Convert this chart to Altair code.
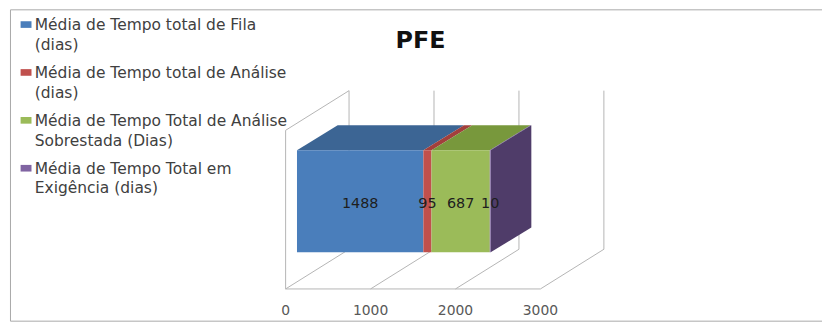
import altair as alt
import pandas as pd

# ---- data ----
title_text = "PFE"
series = [
    "Média de Tempo total de Fila\n(dias)",
    "Média de Tempo total de Análise\n(dias)",
    "Média de Tempo Total de Análise\nSobrestada (Dias)",
    "Média de Tempo Total em\nExigência (dias)",
]
values = [1488, 95, 687, 10]
ticks = [0, 1000, 2000, 3000]

# ---- styles ----
front_colors = ["#4a7ebb", "#c0504d", "#9bbb59", "#8064a2"]
top_colors = ["#3c6594", "#a23f3c", "#78983c", "#67528a"]
side_color = "#4f3c69"
grid_color = "#b4b4b4"
FONT = "DejaVu Sans"

W, H = 819, 315
xs = alt.Scale(domain=[-3245, 6315], nice=False, zero=False)
ys = alt.Scale(domain=[0, 315], nice=False, zero=False)

# oblique 3D geometry (in scale units)
DEPTH_X, DEPTH_Y = 747, 40
FLOOR, TOP, LEFT_TOP = 33, 233, 193
OFF, BAR_LO, BAR_HI = 134, 70, 173
BDX, BDY = 479, 25

# walls / floor lines
seg = []
for t in ticks:
    seg.append(dict(x=t, y=FLOOR, x2=t + DEPTH_X, y2=FLOOR + DEPTH_Y))
    seg.append(dict(x=t + DEPTH_X, y=FLOOR + DEPTH_Y, x2=t + DEPTH_X, y2=TOP))
seg.append(dict(x=ticks[0], y=FLOOR, x2=ticks[-1], y2=FLOOR))
seg.append(dict(x=ticks[0], y=FLOOR, x2=ticks[0], y2=LEFT_TOP))
seg.append(dict(x=ticks[0], y=LEFT_TOP, x2=ticks[0] + DEPTH_X, y2=TOP))
walls = pd.DataFrame(seg)

# stacked segments
c0, c1, acc = [], [], 0
for v in values:
    c0.append(acc)
    acc += v
    c1.append(acc)
total = acc

front = pd.DataFrame(dict(series=series, x=[OFF + a for a in c0], x2=[OFF + b for b in c1],
                          y=BAR_LO, y2=BAR_HI, fill=front_colors,
                          mid=[OFF + (a + b) / 2 for a, b in zip(c0, c1)],
                          label=[str(v) for v in values]))

top_rows = []
for i, s in enumerate(series):
    top_rows.append(dict(series=s, y=BAR_HI, x=OFF + c0[i], x2=OFF + c1[i], fill=top_colors[i]))
    top_rows.append(dict(series=s, y=BAR_HI + BDY, x=OFF + c0[i] + BDX, x2=OFF + c1[i] + BDX, fill=top_colors[i]))
topdf = pd.DataFrame(top_rows)

side = pd.DataFrame([
    dict(x=OFF + total, y=BAR_LO, y2=BAR_HI),
    dict(x=OFF + total + BDX, y=BAR_LO + BDY, y2=BAR_HI + BDY),
])

tickdf = pd.DataFrame(dict(t=ticks, lab=[str(t) for t in ticks], y=11))

# legend layout (pixels)
leg = pd.DataFrame(dict(text=series, i=range(len(series)), fill=front_colors))
leg["py"] = 20.8 + leg["i"] * 48.3
leg["px"] = 25
leg["sx"] = 10.7
leg["sx2"] = 21.7
leg["sy"] = leg["py"] - 8.8
leg["sy2"] = leg["py"] - 2.1

one = pd.DataFrame({"k": [0]})

frame = alt.Chart(one).mark_rect(fill=None, stroke="#a8a8a8", strokeWidth=1).encode(
    x=alt.value(0.5), x2=alt.value(840), y=alt.value(0.5), y2=alt.value(314.5))

wall_layer = alt.Chart(walls).mark_rule(color=grid_color, strokeWidth=1).encode(
    x=alt.X("x:Q", scale=xs, axis=None), x2="x2:Q",
    y=alt.Y("y:Q", scale=ys, axis=None), y2="y2:Q")

top_layer = alt.Chart(topdf).mark_area(orient="horizontal").encode(
    y=alt.Y("y:Q", scale=ys, axis=None),
    x=alt.X("x:Q", scale=xs, axis=None, stack=None), x2="x2:Q",
    detail="series:N",
    fill=alt.Fill("fill:N", scale=None))

side_layer = alt.Chart(side).mark_area(orient="vertical", color=side_color).encode(
    x=alt.X("x:Q", scale=xs, axis=None),
    y=alt.Y("y:Q", scale=ys, axis=None, stack=None), y2="y2:Q")

front_layer = alt.Chart(front).mark_rect().encode(
    x=alt.X("x:Q", scale=xs, axis=None), x2="x2:Q",
    y=alt.Y("y:Q", scale=ys, axis=None), y2="y2:Q",
    fill=alt.Fill("fill:N", scale=None))

label_layer = alt.Chart(front).mark_text(font=FONT, fontSize=14.5, color="#1e1e1e",
                                          baseline="middle", align="center").encode(
    x=alt.X("mid:Q", scale=xs, axis=None),
    y=alt.Y("ymid:Q", scale=ys, axis=None),
    text="label:N").transform_calculate(ymid=f"{(BAR_LO + BAR_HI) / 2 - 3}")

tick_layer = alt.Chart(tickdf).mark_text(font=FONT, fontSize=14, color="#595959",
                                         baseline="middle", align="center").encode(
    x=alt.X("t:Q", scale=xs, axis=None),
    y=alt.Y("y:Q", scale=ys, axis=None),
    text="lab:N")

title_layer = alt.Chart(one).mark_text(text=title_text, font=FONT, fontSize=24, fontWeight="bold",
                                       color="#111111", baseline="alphabetic", align="center").encode(
    x=alt.value(414), y=alt.value(39))

leg_sq = alt.Chart(leg).mark_rect().encode(
    x=alt.X("sx:Q", scale=None), x2="sx2:Q",
    y=alt.Y("sy:Q", scale=None), y2="sy2:Q",
    fill=alt.Fill("fill:N", scale=None))

leg_txt = alt.Chart(leg).mark_text(font=FONT, fontSize=15.6, color="#404040", align="left",
                                   baseline="alphabetic", lineBreak="\n", lineHeight=20).encode(
    x=alt.X("px:Q", scale=None), y=alt.Y("py:Q", scale=None), text="text:N")

chart = alt.layer(frame, wall_layer, top_layer, side_layer, front_layer, label_layer,
                  tick_layer, title_layer, leg_sq, leg_txt).properties(
    width=W, height=H, padding={"left": 2, "top": 0, "right": 0, "bottom": 0},
    autosize=alt.AutoSizeParams(type="none"),
).configure_view(stroke=None)

chart.save("out.html", embed_options={"renderer": "svg", "actions": False})
